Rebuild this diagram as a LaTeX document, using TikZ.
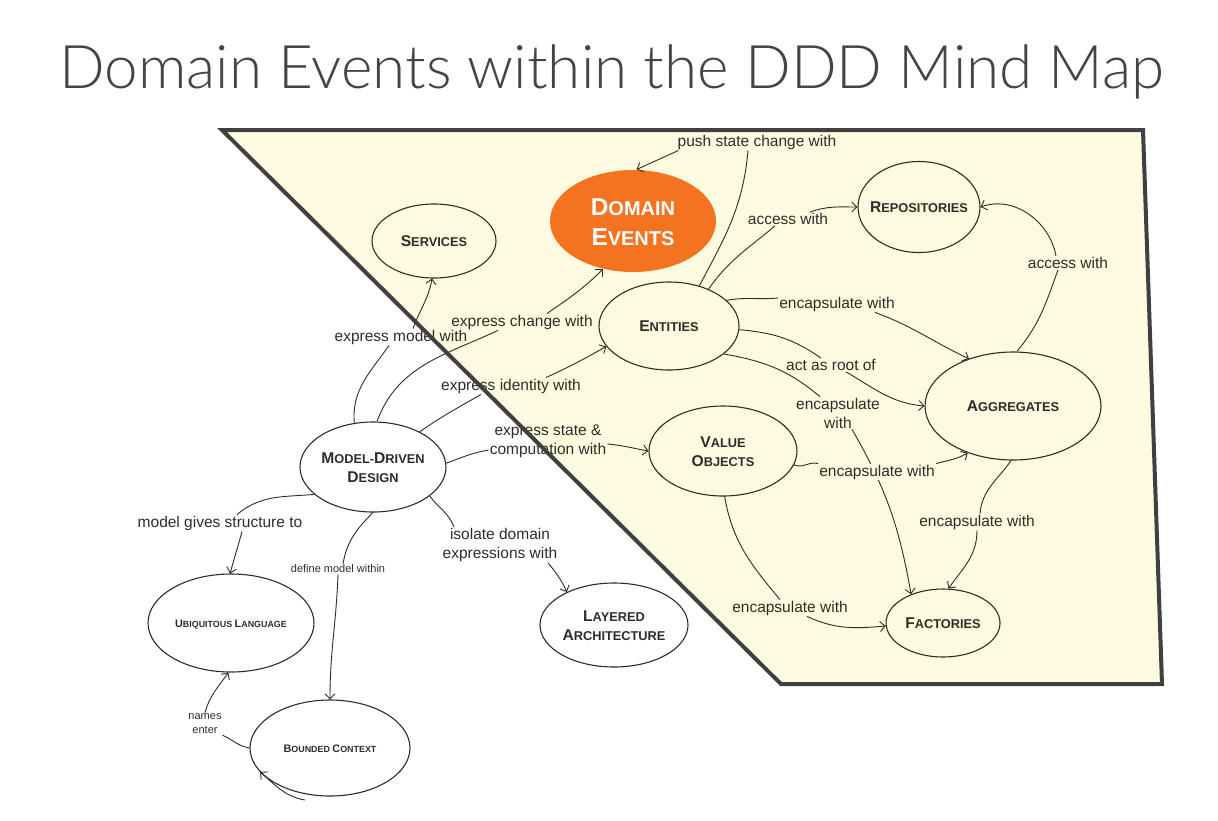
\documentclass[tikz,border=0pt]{standalone}
\usepackage{fontspec}
\setmainfont{Liberation Sans}
\newfontfamily\titlefont{Lato Light}
\usetikzlibrary{shapes.geometric,arrows.meta}
\definecolor{yel}{RGB}{254,251,224}
\definecolor{bord}{RGB}{64,64,64}
\definecolor{ink}{RGB}{45,45,40}
\definecolor{orng}{RGB}{244,115,33}
\definecolor{ttl}{RGB}{68,68,68}
\newcommand\BC[1]{\scalebox{1.22}{#1}}
\newcommand\ctr[2][-2pt]{\raisebox{#1}[\height][\depth]{\makebox[0pt]{\begin{tabular}{@{}c@{}}#2\end{tabular}}}}
\tikzset{
  concept/.style={ellipse, draw=ink, line width=1.1pt, inner sep=0pt, align=center,
    font=\fontsize{12.8}{19}\selectfont\bfseries, text=ink},
  smallconcept/.style={concept, font=\fontsize{8.9}{12}\selectfont\bfseries},
  lab/.style={font=\fontsize{15.5}{19}\selectfont, text=ink, inner sep=1pt, align=center},
  smalllab/.style={lab, font=\fontsize{11}{14}\selectfont},
  link/.style={draw=ink, line width=0.9pt},
  arr/.style={link, -{Straight Barb[length=5pt,width=10pt]}},
}
\begin{document}
\begin{tikzpicture}[x=1pt,y=1pt]
\fill[white] (0,0) rectangle (1218,-820);
\useasboundingbox (0,0) rectangle (1218,-820);
% panel fill
\coordinate (p1) at (222,-130);
\coordinate (p2) at (1143,-130);
\coordinate (p3) at (1162,-684);
\coordinate (p4) at (781,-684);
\fill[yel] (p1) -- (p2) -- (p3) -- (p4) -- cycle;
% title
\node[font=\titlefont\fontsize{60}{60}\selectfont, text=ttl, anchor=base, inner sep=0pt] (title) at (612,-88)
  {\resizebox{1105pt}{!}{Domain Events within the DDD Mind Map}};
% concepts
\node[concept, minimum width=124, minimum height=74] (svc) at (434,-241) {\ctr{\BC{S}ERVICES}};
\node[concept, fill=orng, draw=none, text=white, font=\fontsize{20}{30}\selectfont\bfseries,
  minimum width=166, minimum height=102] (de) at (633,-221) {\ctr[-3.5pt]{\BC{D}OMAIN\\\BC{E}VENTS}};
\node[concept, minimum width=122, minimum height=91] (rep) at (919,-207) {\ctr{\BC{R}EPOSITORIES}};
\node[concept, minimum width=140, minimum height=88] (ent) at (669,-326) {\ctr{\BC{E}NTITIES}};
\node[concept, minimum width=176, minimum height=108] (agg) at (1013,-406) {\ctr{\BC{A}GGREGATES}};
\node[concept, minimum width=148, minimum height=90] (vo) at (723,-451) {\ctr{\BC{V}ALUE\\\BC{O}BJECTS}};
\node[concept, minimum width=114, minimum height=68] (fac) at (943,-623) {\ctr{\BC{F}ACTORIES}};
\node[concept, minimum width=146, minimum height=90] (mdd) at (373,-467) {\ctr{\BC{M}ODEL-\BC{D}RIVEN\\\BC{D}ESIGN}};
\node[smallconcept, minimum width=166, minimum height=98] (ul) at (231,-623) {\ctr{\BC{U}BIQUITOUS \BC{L}ANGUAGE}};
\node[smallconcept, minimum width=160, minimum height=96] (bc) at (330,-748) {\ctr{\BC{B}OUNDED \BC{C}ONTEXT}};
\node[concept, minimum width=148, minimum height=84] (la) at (614,-625) {\ctr{\BC{L}AYERED\\\BC{A}RCHITECTURE}};
% labels
\node[lab] (l1) at (401,-337) {express model with};
\node[lab] (l2) at (522,-322) {express change with};
\node[lab] (l3) at (511,-386) {express identity with};
\node[lab] (l4) at (548,-441) {express state \&\\computation with};
\node[lab] (l5) at (220,-523) {model gives structure to};
\node[smalllab] (l6) at (338,-569) {define model within};
\node[lab] (l7) at (500,-545) {isolate domain\\expressions with};
\node[smalllab] (l8) at (205,-724) {names\\enter};
\node[lab] (l9) at (757,-142) {push state change with};
\node[lab] (l10) at (788,-219) {access with};
\node[lab] (l11) at (837,-304) {encapsulate with};
\node[lab] (l12) at (831,-365) {act as root of};
\node[lab] (l13) at (838,-413) {encapsulate\\with};
\node[lab] (l15) at (790,-608) {encapsulate with};
\node[lab] (l16) at (977,-522) {encapsulate with};
\node[lab] (l17) at (1068,-263) {access with};
\coordinate (bcloop) at (305,-800);
% links
\draw[link] (mdd.113) to[out=95,in=235] ([xshift=-12pt]l1.south);
\draw[arr] ([xshift=12pt]l1.north) to[out=70,in=260] (svc.267);
\draw[link] (mdd.85) to[out=70,in=205] ([xshift=-24pt]l2.south);
\draw[arr] ([xshift=25pt]l2.north) to[out=35,in=225] (de.238);
\draw[link] (mdd.37) to[out=35,in=210] ([xshift=-30pt]l3.south);
\draw[arr] ([xshift=35pt]l3.north) to[out=25,in=210] (ent.198);
\draw[link] (mdd.3) to[out=20,in=190] ([yshift=-9pt]l4.west);
\draw[arr] ([yshift=-3pt]l4.east) to[out=-5,in=170] (vo.180);
\draw[link] (mdd.205) to[out=185,in=40] ([xshift=17pt]l5.north);
\draw[arr] ([xshift=22pt]l5.south) to[out=-105,in=75] (ul.91);
\draw[link] (mdd.270) to[out=225,in=80] ([xshift=5pt]l6.north);
\draw[arr] (l6.south) to[out=-92,in=90] (bc.90);
\draw[link] (mdd.333) to[out=-55,in=110] ([xshift=-46pt]l7.north);
\draw[arr] ([xshift=48pt]l7.south) to[out=-50,in=115] (la.145);
\draw[link] (bc.180) to[out=170,in=-25] (l8.south east);
\draw[arr] (l8.north) to[out=75,in=235] (ul.267);
\draw[arr] (bcloop) to[out=170,in=-40] (bc.199);
\draw[link] (ent.53) to[out=62,in=265] ([xshift=-9pt]l9.south);
\draw[arr] ([xshift=2pt]l9.south west) -- (de.86);
\draw[link] (ent.43) to[out=55,in=220] ([xshift=-13pt]l10.south);
\draw[arr] ([xshift=22pt]l10.north) to[out=20,in=180] (rep.180);
\draw[link] (ent.24) to[out=10,in=185] ([yshift=6pt]l11.west);
\draw[arr] ([xshift=38pt]l11.south) to[out=-20,in=155] (agg.133);
\draw[link] (ent.357) to[out=-5,in=145] ([xshift=-10pt]l12.north);
\draw[arr] ([xshift=15pt]l12.south) to[out=-30,in=175] (agg.180);
\draw[link] (ent.333) to[out=-10,in=140] ([xshift=-18pt]l13.north);
\draw[arr] ([xshift=14pt]l13.south) to[out=-60,in=100] (fac.138);
% label drawn over the crossing line
\node[lab, fill=yel] (l14) at (877,-472) {encapsulate with};
\draw[link] (vo.349) to[out=-25,in=165] (l14.north west);
\draw[arr] (l14.north east) to[out=15,in=210] (agg.226);
\draw[link] (vo.272) to[out=-80,in=130] ([xshift=-10pt]l15.north);
\draw[arr] ([xshift=17pt]l15.south) to[out=-25,in=185] (fac.183);
\draw[link] (agg.268) to[out=235,in=85] ([xshift=3pt]l16.north);
\draw[arr] (l16.south) to[out=-90,in=55] (fac.81);
\draw[link] (agg.86) to[out=50,in=250] ([xshift=-10pt]l17.south);
\draw[arr] ([xshift=-12pt]l17.north) to[out=100,in=20] (rep.0);
% panel border on top
\draw[bord, line width=4pt, line join=miter] (p1) -- (p2) -- (p3) -- (p4) -- cycle;
\end{tikzpicture}
\end{document}
